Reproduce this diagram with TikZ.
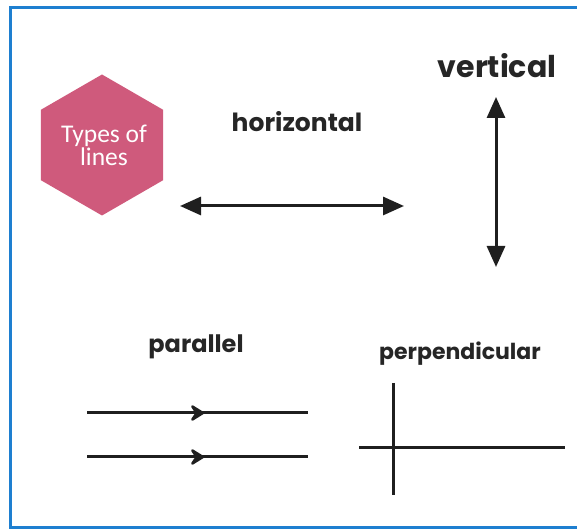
\documentclass[tikz,border=0pt]{standalone}
\usepackage{fontspec}
\setmainfont{Poppins}
\newfontfamily\hexfont{Carlito}
\usetikzlibrary{arrows.meta,shapes.geometric,decorations.markings}
\definecolor{hexpink}{HTML}{CF5A7C}
\definecolor{frameblue}{HTML}{1E7FD0}
\tikzset{
  x=1pt,y=1pt,
  lbl/.style={font=\fontsize{25}{28}\selectfont\bfseries, text=black!85, inner sep=0pt, anchor=base},
  dbl/.style={line width=3pt, draw=black!88, {Triangle[length=21pt,width=18pt]}-{Triangle[length=21pt,width=18pt]}},
  plain/.style={line width=3pt, draw=black!88},
  chev/.style={postaction={decorate},decoration={markings,mark=at position 0.53 with {\arrow{Stealth[length=17pt,width=21pt,inset=7pt,round]}}}}
}
\begin{document}
\begin{tikzpicture}
\useasboundingbox (0,0) rectangle (577,529);
% frame
\draw[frameblue, line width=3pt] (580,521) -- (10,521) -- (10,1.5) -- (580,1.5);
% hexagon
\node[regular polygon, regular polygon sides=6, shape border rotate=30, minimum size=141pt, fill=hexpink, inner sep=0pt] (hex) at (102,384) {};
\node[text=white, align=center, inner sep=0pt, font=\hexfont\fontsize{25.5}{23}\selectfont] (hext) at (104,384) {Types of\\lines};
% labels
\node[lbl] (hl) at (297,397) {horizontal};
\node[lbl, font=\fontsize{30}{34}\selectfont\bfseries] (vl) at (497,451) {vertical};
\node[lbl, font=\fontsize{24}{28}\selectfont\bfseries] (pl) at (196,176) {parallel};
\node[lbl, font=\fontsize{22}{26}\selectfont\bfseries] (pp) at (460,169) {perpendicular};
% horizontal arrow
\coordinate (h1) at (180,323);
\coordinate (h2) at (404,323);
\draw[dbl] (h1) -- (h2);
% vertical arrow
\coordinate (v1) at (496,432);
\coordinate (v2) at (496,262);
\draw[dbl] (v1) -- (v2);
% parallel lines
\coordinate (p1a) at (87,116);
\coordinate (p1b) at (308,116);
\coordinate (p2a) at (87,72);
\coordinate (p2b) at (308,72);
\draw[plain, chev] (p1a) -- (p1b);
\draw[plain, chev] (p2a) -- (p2b);
% perpendicular
\coordinate (qa) at (359,81);
\coordinate (qb) at (565,81);
\coordinate (qc) at (393,146);
\coordinate (qd) at (393,34);
\draw[plain] (qa) -- (qb);
\draw[plain] (qc) -- (qd);
\end{tikzpicture}
\end{document}
